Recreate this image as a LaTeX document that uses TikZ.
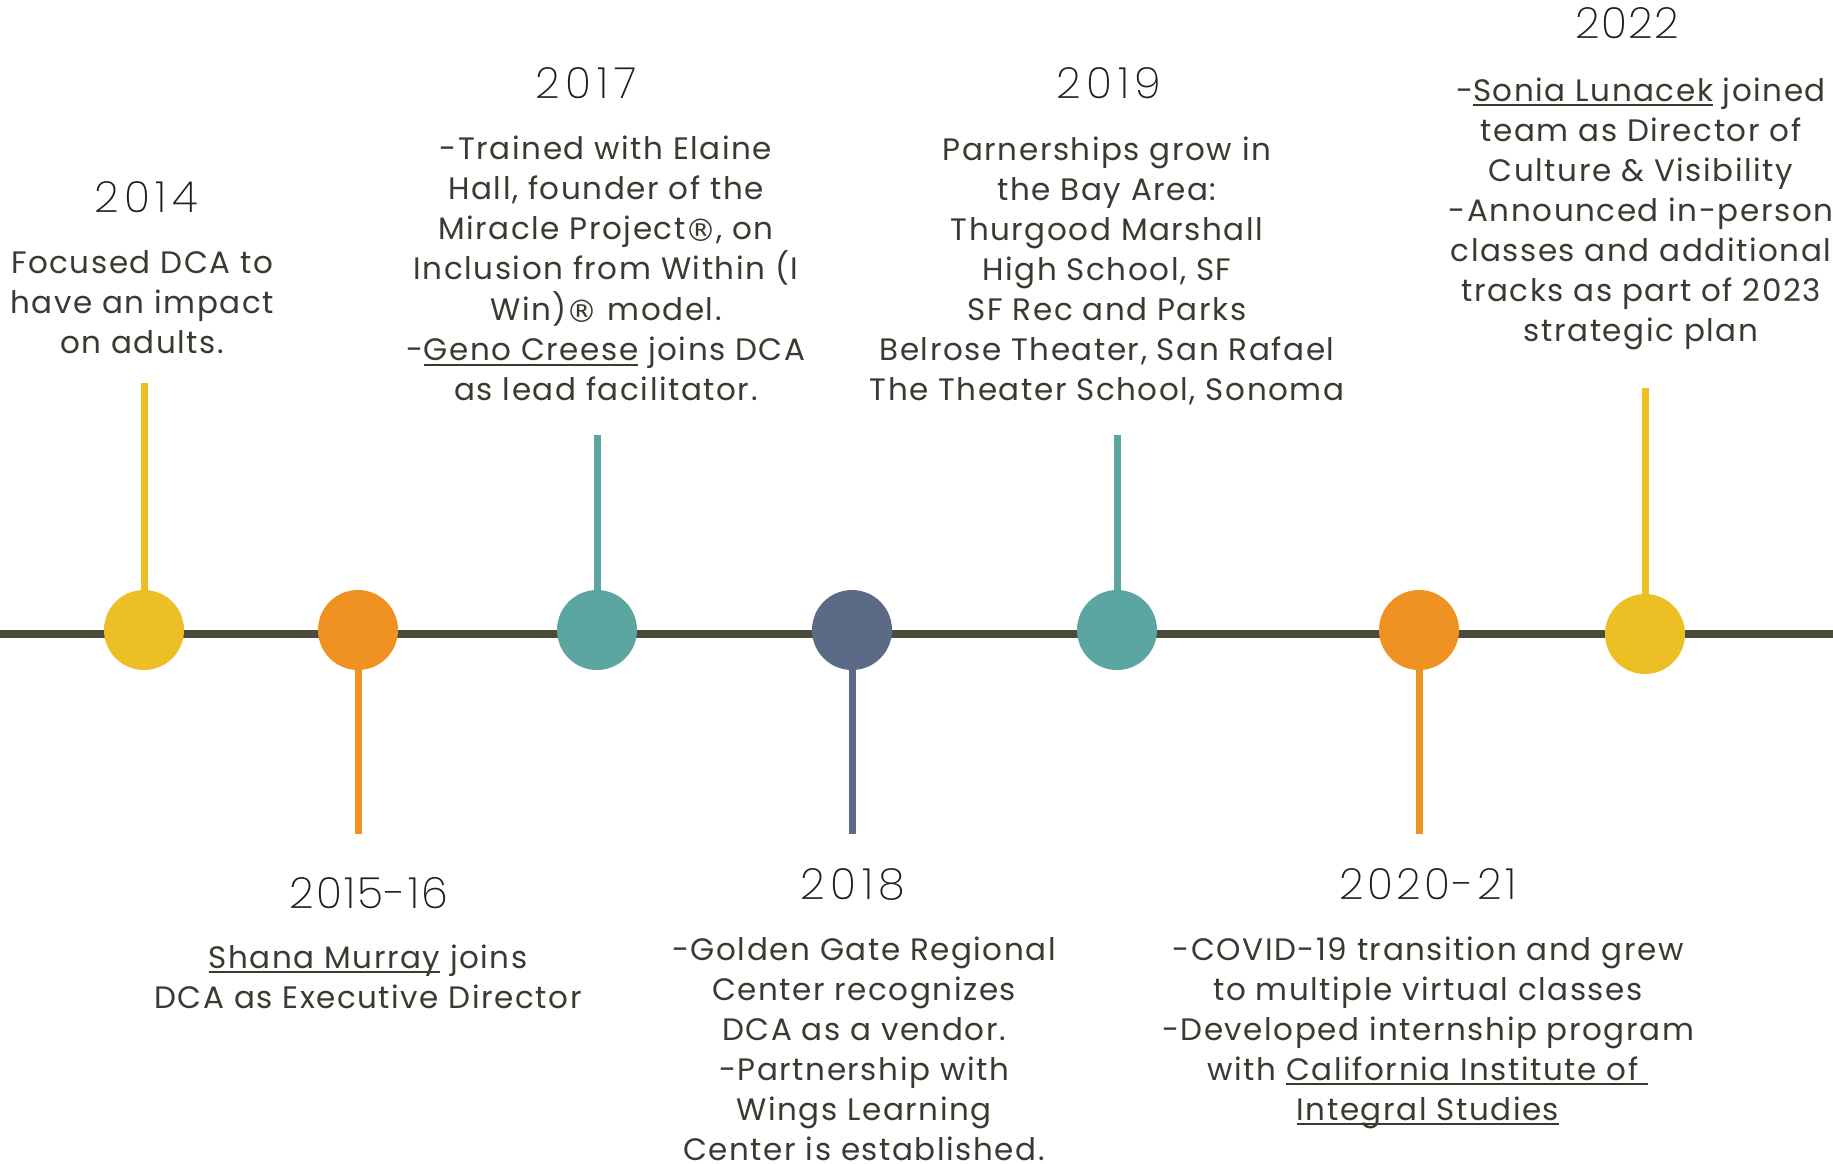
\documentclass[tikz,border=0pt]{standalone}
\usepackage{fontspec}
\newfontfamily\bodyfont{Poppins}[LetterSpace=5]
\newfontfamily\yearfont{Poppins ExtraLight}[LetterSpace=3]
\newfontfamily\yearwide{Poppins ExtraLight}[LetterSpace=13]
\newfontfamily\yearmid{Poppins ExtraLight}[LetterSpace=8]
\newfontfamily\yearlow{Poppins ExtraLight}[LetterSpace=5]
\newfontfamily\regfont{DejaVu Sans}
\definecolor{yel}{HTML}{ECBF25}
\definecolor{org}{HTML}{EF9221}
\definecolor{teal}{HTML}{5BA6A1}
\definecolor{slate}{HTML}{5B6A85}
\definecolor{linecol}{HTML}{4C4B3B}
\definecolor{txt}{HTML}{3C3A30}
\definecolor{yr}{HTML}{1E1E1E}
\newsavebox\ulbox
\newcommand\ulx[1]{\sbox\ulbox{#1}\rlap{\rule[-5pt]{\wd\ulbox}{1.8pt}}\usebox\ulbox}
\newcommand\blk[1]{\begin{tabular}[t]{@{}c@{}}#1\end{tabular}}
\newcommand\reg{{\regfont\fontsize{31}{40}\selectfont\raisebox{-2pt}{®}}}
\tikzset{
  body/.style={anchor=base, inner sep=0pt, text=txt, font=\bodyfont\fontsize{31}{40}\selectfont},
  year/.style={anchor=base, inner sep=0pt, text=yr, font=\yearfont\fontsize{43}{50}\selectfont},
  dot/.style={circle, inner sep=0pt, minimum size=80pt},
  stem/.style={line width=7pt},
}
\begin{document}
\begin{tikzpicture}[x=1pt,y=-1pt]
\useasboundingbox[fill=white] (0,0) rectangle (1833,1164);
% main line
\coordinate (L) at (0,634);
\coordinate (R) at (1833,634);
\draw[line width=8pt, linecol] (L) -- (R);
% dots
\node[dot, fill=yel]   (d1) at (144,630) {};
\node[dot, fill=org]   (d2) at (358,630) {};
\node[dot, fill=teal]  (d3) at (597,630) {};
\node[dot, fill=slate] (d4) at (852,630) {};
\node[dot, fill=teal]  (d5) at (1117,630) {};
\node[dot, fill=org]   (d6) at (1419,630) {};
\node[dot, fill=yel]   (d7) at (1645,634) {};
% stem ends
\coordinate (s1) at (144,383);
\coordinate (s2) at (358,834);
\coordinate (s3) at (597,435);
\coordinate (s4) at (852,834);
\coordinate (s5) at (1117,435);
\coordinate (s6) at (1419,834);
\coordinate (s7) at (1645,388);
\draw[stem, yel]   (d1.north) -- (s1);
\draw[stem, org]   (d2.south) -- (s2);
\draw[stem, teal]  (d3.north) -- (s3);
\draw[stem, slate] (d4.south) -- (s4);
\draw[stem, teal]  (d5.north) -- (s5);
\draw[stem, org]   (d6.south) -- (s6);
\draw[stem, yel]   (d7.north) -- (s7);
% years
\node[year, font=\yearwide\fontsize{43}{50}\selectfont] (y1) at (146,212) {2014};
\node[year, font=\yearlow\fontsize{43}{50}\selectfont] (y2) at (369,908) {2015-16};
\node[year, font=\yearwide\fontsize{43}{50}\selectfont] (y3) at (586,98) {2017};
\node[year, font=\yearwide\fontsize{43}{50}\selectfont] (y4) at (853,899) {2018};
\node[year, font=\yearwide\fontsize{43}{50}\selectfont] (y5) at (1109,98) {2019};
\node[year, font=\yearmid\fontsize{43}{50}\selectfont] (y6) at (1428,899) {2020-21};
\node[year] (y7) at (1627,39) {2022};
% texts
\node[body] (t1) at (142,273) {\blk{Focused DCA to\\have an impact\\on adults.}};
\node[body] (t2) at (368,968) {\blk{\ulx{Shana Murray} joins\\DCA as Executive Director}};
\node[body] (t3) at (606,159) {\blk{-Trained with Elaine\\Hall, founder of the\\Miracle Project\reg, on\\Inclusion from Within (I\\Win)\reg\ model.\\-\ulx{Geno Creese} joins DCA\\as lead facilitator.}};
\node[body] (t4) at (864,960) {\blk{-Golden Gate Regional\\Center recognizes\\DCA as a vendor.\\-Partnership with\\Wings Learning\\Center is established.}};
\node[body] (t5) at (1107,160) {\blk{Parnerships grow in\\the Bay Area:\\Thurgood Marshall\\High School, SF\\SF Rec and Parks\\Belrose Theater, San Rafael\\The Theater School, Sonoma}};
\node[body] (t6) at (1428,960) {\blk{-COVID-19 transition and grew\\to multiple virtual classes\\-Developed internship program\\with \ulx{California Institute of\ }\\\ulx{Integral Studies}}};
\node[body] (t7) at (1641,101) {\blk{-\ulx{Sonia Lunacek} joined\\team as Director of\\Culture \& Visibility\\-Announced in-person\\classes and additional\\tracks as part of 2023\\strategic plan}};
\end{tikzpicture}
\end{document}
